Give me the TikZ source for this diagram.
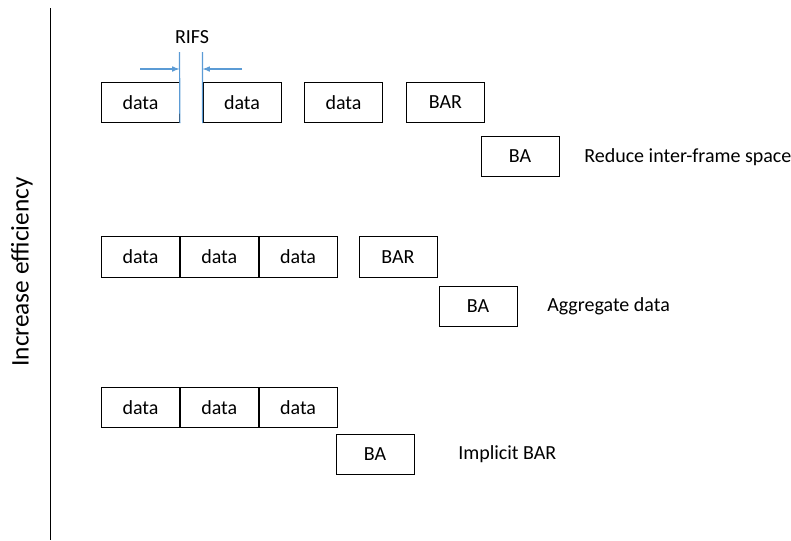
\documentclass[tikz,border=0pt]{standalone}
\usepackage{fontspec}
\setmainfont{Carlito}
\usetikzlibrary{arrows,positioning}
\definecolor{rifsblue}{HTML}{5B9BD5}

\begin{document}
\begin{tikzpicture}[x=0.75pt,y=-0.75pt,
    frm/.style={draw, line width=0.6pt, inner sep=0pt, minimum width=58.5pt, minimum height=30.5pt, font=\fontsize{15}{17}\selectfont},
    note/.style={anchor=west, inner sep=0pt, font=\fontsize{15}{17}\selectfont},
    gap/.style={rifsblue, line width=0.9pt},
    >=latex]
    \useasboundingbox (0,0) rectangle (791,540);

    % efficiency axis
    \draw[line width=0.6pt] (50,8) -- (50,540);
    \node[rotate=90, font=\fontsize{19}{21}\selectfont] (eff) at (22,272) {Increase efficiency};

    % reduce inter-frame space
    \node[frm] (r1a) at (140.5,102.5) {data};
    \node[frm] (r1b) at (242,102.5) {data};
    \node[frm] (r1c) at (343.5,102.5) {data};
    \node[frm] (r1bar) at (445.5,102.5) {BAR};
    \node[frm] (r1ba) at (520,156.5) {BA};
    \node[note] (r1txt) at (584,157) {Reduce inter-frame space};

    \node[font=\fontsize{15}{17}\selectfont] (rifs) at (192,37) {RIFS};
    \coordinate (gapl) at (179.5,52);
    \coordinate (gapr) at (202.5,52);
    \coordinate (arrl) at (140,69);
    \coordinate (arrr) at (242,69);
    \draw[gap] (gapl) -- (r1a.south east);
    \draw[gap] (gapr) -- (r1b.south west);
    \draw[gap,->] (arrl) -- (arrl -| gapl);
    \draw[gap,->] (arrr) -- (arrr -| gapr);

    % aggregate data
    \node[frm] (r2a) at (140.5,257) {data};
    \node[frm, right=0pt of r2a] (r2b) {data};
    \node[frm, right=0pt of r2b] (r2c) {data};
    \node[frm] (r2bar) at (398,257) {BAR};
    \node[frm] (r2ba) at (478,306.5) {BA};
    \node[note] (r2txt) at (547,306) {Aggregate data};

    % implicit BAR
    \node[frm] (r3a) at (140.5,407.5) {data};
    \node[frm, right=0pt of r3a] (r3b) {data};
    \node[frm, right=0pt of r3b] (r3c) {data};
    \node[frm] (r3ba) at (375,454.5) {BA};
    \node[note] (r3txt) at (458,454) {Implicit BAR};

\end{tikzpicture}
\end{document}
